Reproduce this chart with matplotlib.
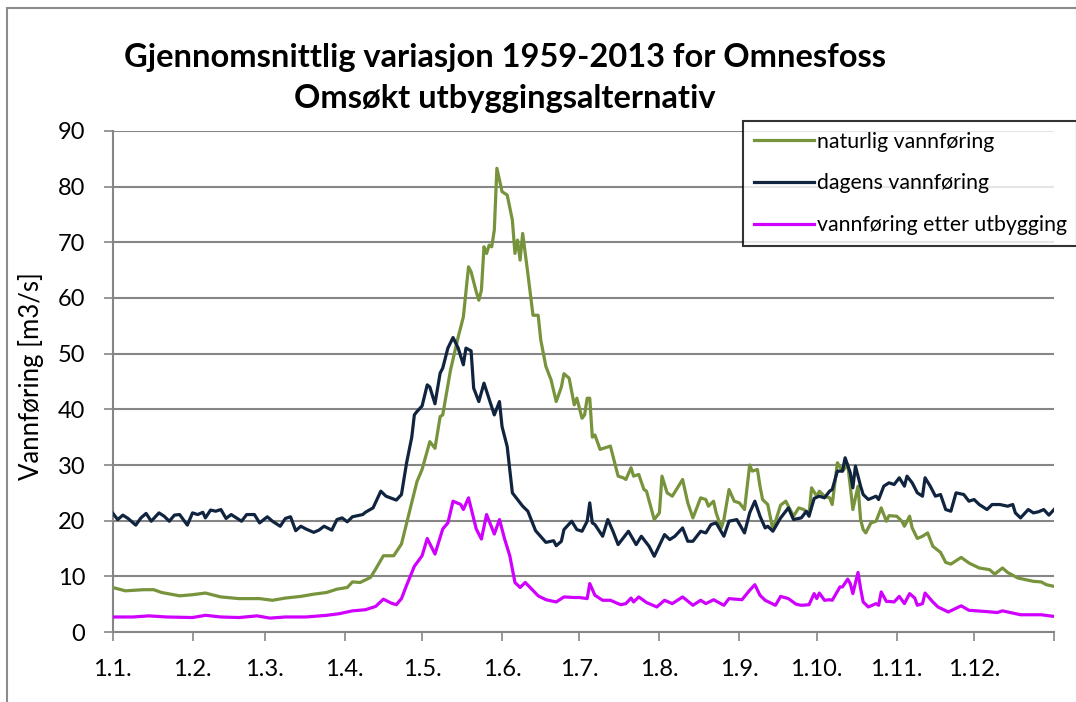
import matplotlib
matplotlib.use("Agg")
import matplotlib.pyplot as plt
from matplotlib.patches import Rectangle

# ----- data (day of year, m3/s) -----
nat_day = [0, 5, 12, 16, 19, 26, 31, 36, 42, 49, 57, 62, 67, 73, 78, 83, 87, 91, 93, 96,
           100, 102, 105, 109, 112, 115, 118, 120, 123, 125, 127, 128, 131, 134, 136, 138,
           139, 141, 142, 143, 144, 145, 146, 147, 148, 149, 150, 151, 153, 155, 156, 157,
           158, 159, 161, 163, 165, 166, 168, 170, 172, 174, 175, 177, 179, 180, 182, 183,
           184, 185, 186, 187, 189, 193, 196, 198, 199, 201, 202, 204, 206, 207, 210, 212,
           213, 215, 217, 221, 223, 225, 228, 230, 231, 233, 234, 236, 237, 239, 241, 243,
           245, 247, 248, 250, 251, 252, 254, 256, 259, 261, 264, 266, 268, 270, 271, 273,
           274, 276, 278, 279, 281, 283, 285, 286, 287, 289, 290, 291, 292, 294, 296, 298,
           300, 301, 304, 306, 307, 309, 310, 312, 314, 316, 318, 321, 323, 325, 329, 332,
           336, 340, 342, 345, 347, 351, 354, 357, 360, 362, 365]
nat_q = [8.0, 7.4, 7.6, 7.6, 7.1, 6.5, 6.7, 7.0, 6.3, 6.0, 6.0, 5.7, 6.1, 6.4, 6.8, 7.1, 7.7,
         8.0, 9.0, 8.9, 9.8, 11.3, 13.7, 13.7, 15.8, 21.4, 27.0, 29.2, 34.2, 33.0, 38.7, 39.0,
         47.0, 53.0, 56.6, 65.6, 64.7, 61.1, 59.6, 61.4, 69.2, 68.0, 69.5, 69.2, 72.2, 83.3,
         81.2, 79.1, 78.5, 74.0, 68.0, 70.4, 66.8, 71.6, 64.4, 56.9, 56.9, 52.5, 47.7, 45.3,
         41.4, 44.0, 46.4, 45.6, 40.8, 42.0, 38.4, 39.0, 42.0, 42.0, 35.0, 35.4, 32.8, 33.4,
         28.0, 27.7, 27.4, 29.5, 28.0, 28.3, 25.6, 25.3, 20.2, 21.4, 28.0, 25.0, 24.4, 27.4,
         23.2, 20.5, 24.1, 23.8, 22.6, 23.5, 21.4, 18.7, 20.2, 25.6, 23.5, 23.2, 22.0, 30.0,
         28.9, 29.2, 26.2, 23.8, 22.9, 18.4, 22.8, 23.5, 20.8, 22.3, 22.0, 21.0, 25.9, 24.4,
         25.3, 24.4, 24.1, 22.9, 30.4, 28.9, 30.1, 26.2, 22.0, 26.2, 20.2, 18.4, 17.8, 19.6,
         19.9, 22.3, 19.9, 20.9, 20.8, 19.9, 19.0, 20.8, 18.7, 16.8, 17.2, 17.8, 15.4, 14.3,
         12.5, 12.2, 13.4, 12.4, 11.5, 11.2, 10.4, 11.5, 10.7, 9.7, 9.4, 9.1, 9.0, 8.5, 8.2]

dag_day = [0, 2, 4, 6, 9, 11, 13, 15, 18, 20, 22, 24, 26, 29, 31, 33, 35, 36, 38, 40, 42,
           44, 46, 48, 50, 52, 55, 57, 60, 62, 65, 67, 69, 71, 73, 75, 78, 80, 82, 85, 87,
           89, 91, 93, 97, 98, 101, 104, 106, 110, 112, 114, 116, 117, 118, 120, 122, 123,
           125, 127, 128, 130, 132, 134, 136, 137, 139, 140, 142, 144, 148, 150, 151, 153,
           155, 157, 159, 161, 164, 168, 171, 172, 174, 175, 178, 180, 182, 184, 185, 186,
           187, 190, 192, 194, 196, 200, 203, 205, 208, 210, 214, 216, 218, 221, 223, 225,
           228, 230, 232, 234, 237, 239, 242, 245, 247, 249, 251, 253, 254, 256, 259, 262,
           264, 267, 269, 270, 272, 274, 276, 278, 279, 281, 283, 284, 286, 287, 288, 290,
           291, 293, 296, 297, 299, 301, 303, 305, 307, 308, 310, 312, 314, 315, 317, 319,
           321, 323, 325, 327, 330, 332, 334, 336, 339, 341, 344, 347, 349, 350, 352, 355,
           357, 359, 361, 363, 365]
dag_q = [21.4, 20.2, 21.0, 20.4, 19.2, 20.5, 21.3, 19.9, 21.4, 20.8, 19.9, 21.0, 21.1, 19.2,
         21.4, 21.1, 21.5, 20.5, 21.9, 21.7, 22.0, 20.4, 21.1, 20.5, 19.9, 21.1, 21.1, 19.6,
         20.7, 19.9, 19.0, 20.4, 20.7, 18.2, 19.0, 18.5, 17.9, 18.3, 19.0, 18.3, 20.2, 20.5,
         19.8, 20.7, 21.1, 21.5, 22.3, 25.3, 24.4, 23.7, 24.7, 30.4, 35.0, 39.0, 39.6, 40.6,
         44.4, 44.0, 41.0, 46.5, 47.4, 51.0, 52.9, 51.0, 48.0, 51.0, 50.5, 43.8, 41.4, 44.7,
         39.0, 41.4, 36.9, 33.3, 25.0, 23.8, 22.6, 21.7, 18.2, 16.1, 16.4, 15.5, 16.3, 18.4,
         19.9, 18.4, 18.1, 19.9, 23.2, 19.6, 19.3, 17.2, 20.2, 18.1, 15.7, 18.1, 15.7, 17.2,
         15.4, 13.6, 17.5, 16.6, 17.2, 18.7, 16.3, 16.3, 18.1, 17.8, 19.3, 19.6, 17.2, 19.9,
         20.2, 17.8, 21.4, 23.5, 20.8, 18.7, 19.0, 18.1, 20.5, 22.3, 20.2, 20.5, 21.7, 20.8,
         24.0, 24.4, 24.1, 25.3, 25.6, 28.9, 28.9, 31.3, 28.6, 25.9, 29.8, 26.2, 24.7, 23.8,
         24.4, 23.8, 26.2, 26.8, 26.5, 27.7, 26.2, 28.0, 26.8, 25.0, 24.4, 27.7, 26.2, 24.4,
         24.7, 22.0, 21.7, 25.0, 24.7, 23.5, 23.8, 22.9, 22.0, 22.9, 22.9, 22.6, 22.9, 21.4,
         20.5, 22.0, 21.4, 21.6, 22.0, 21.0, 22.0]

utb_day = [0, 8, 14, 21, 31, 36, 42, 49, 56, 61, 67, 75, 83, 88, 93, 98, 102, 105, 108, 110,
           112, 114, 117, 120, 122, 125, 128, 130, 132, 135, 136, 138, 141, 143, 145, 148,
           150, 152, 154, 156, 158, 160, 165, 168, 172, 175, 179, 181, 184, 185, 187, 190,
           193, 197, 199, 201, 202, 204, 207, 211, 214, 217, 221, 225, 228, 230, 233, 237,
           239, 244, 247, 249, 251, 253, 257, 259, 262, 265, 267, 270, 272, 273, 274, 276,
           278, 279, 282, 283, 285, 286, 287, 289, 290, 291, 293, 296, 297, 298, 300, 301,
           303, 305, 307, 309, 311, 312, 314, 315, 318, 320, 324, 329, 332, 338, 343, 345,
           352, 360, 365]
utb_q = [2.7, 2.7, 2.9, 2.7, 2.6, 3.0, 2.7, 2.6, 2.9, 2.5, 2.7, 2.7, 3.0, 3.3, 3.8, 4.0, 4.6,
         5.9, 5.2, 4.9, 6.0, 8.4, 11.8, 13.7, 16.8, 14.0, 18.5, 19.6, 23.5, 22.9, 22.0, 24.1,
         18.5, 16.7, 21.1, 17.6, 20.2, 16.7, 13.7, 8.9, 8.0, 8.9, 6.5, 5.8, 5.4, 6.3, 6.2, 6.2,
         6.0, 8.7, 6.6, 5.7, 5.7, 4.9, 5.1, 6.1, 5.4, 6.3, 5.3, 4.5, 5.7, 5.1, 6.3, 4.8, 5.7,
         5.1, 5.8, 4.8, 6.0, 5.8, 7.5, 8.5, 6.6, 5.7, 4.8, 6.4, 6.0, 5.0, 4.8, 4.9, 6.9, 6.0,
         7.0, 5.7, 5.8, 5.7, 8.1, 8.1, 9.5, 8.7, 6.9, 10.7, 7.8, 5.4, 4.5, 5.1, 4.8, 7.2, 5.5,
         5.5, 5.4, 6.4, 5.1, 6.9, 6.1, 4.8, 5.1, 7.0, 5.4, 4.5, 3.6, 4.7, 3.9, 3.7, 3.5, 3.8,
         3.1, 3.1, 2.8]

month_start = [0, 31, 59, 90, 120, 151, 181, 212, 243, 273, 304, 334, 365]
month_labels = ["1.1.", "1.2.", "1.3.", "1.4.", "1.5.", "1.6.", "1.7.", "1.8.",
                "1.9.", "1.10.", "1.11.", "1.12.", ""]

plt.rcParams["font.family"] = ["Lato", "DejaVu Sans"]

fig = plt.figure(figsize=(10.76, 7.02), dpi=100)
ax = fig.add_axes([0.1046, 0.0997, 0.8750, 0.7137])

# outer chart frame (cut off on the right, like the screenshot)
fig.patches.append(Rectangle((7 / 1076, -0.05), 1.2, 1.05 - 8 / 702,
                             transform=fig.transFigure, fill=False,
                             edgecolor="#8c8c8c", linewidth=1.5))

ax.plot(nat_day, nat_q, color="#77933C", lw=2.3, label="naturlig vannføring", zorder=3)
ax.plot(dag_day, dag_q, color="#10243F", lw=2.3, label="dagens vannføring", zorder=4)
ax.plot(utb_day, utb_q, color="#D000FF", lw=2.3, label="vannføring etter utbygging", zorder=5)

ax.set_xlim(0, 365)
ax.set_ylim(0, 90)
ax.set_yticks(range(0, 91, 10))
ax.set_xticks(month_start)
ax.set_xticklabels(month_labels)
ax.tick_params(axis="both", direction="out", length=6.5, width=1.2, color="#868686",
               labelsize=17, pad=13)

ax.grid(axis="y", color="#868686", linewidth=1.5)
ax.set_axisbelow(True)
for side in ["top", "right"]:
    ax.spines[side].set_visible(False)
for side in ["left", "bottom"]:
    ax.spines[side].set_color("#868686")
    ax.spines[side].set_linewidth(1.5)

ax.set_ylabel("Vannføring [m3/s]", fontsize=18.5)
ax.yaxis.set_label_coords(-0.073, 0.51)

fig.text(0.469, 0.918, "Gjennomsnittlig variasjon 1959-2013 for Omnesfoss",
         ha="center", va="center", fontsize=23.5, fontweight="bold")
fig.text(0.469, 0.860, "Omsøkt utbyggingsalternativ",
         ha="center", va="center", fontsize=23.5, fontweight="bold")

# legend box runs past the right edge like in the original, text stays inside
leg = fig.legend(loc="upper left", bbox_to_anchor=(743 / 1076, 1 - 121 / 702),
                 borderaxespad=0, fontsize=15.3, frameon=True, fancybox=False,
                 handlelength=2.85, handletextpad=0.12, labelspacing=1.02, borderpad=0.5)
leg.get_frame().set_edgecolor("black")
leg.get_frame().set_linewidth(1.5)

fig.savefig("out.png", dpi=100)
